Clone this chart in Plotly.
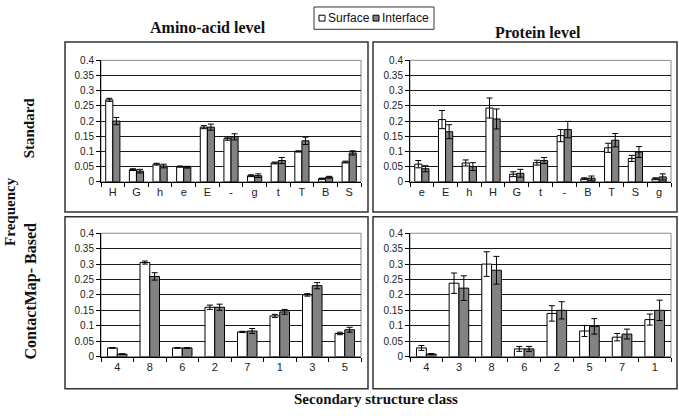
import plotly.graph_objects as go

# ---------------- data ----------------
aa_std_cats = ["H", "G", "h", "e", "E", "-", "g", "t", "T", "B", "S"]
aa_std_surface = [0.27, 0.04, 0.058, 0.05, 0.18, 0.142, 0.02, 0.062, 0.10, 0.01, 0.065]
aa_std_surface_err = [0.005, 0.003, 0.003, 0.002, 0.005, 0.005, 0.003, 0.003, 0.002, 0.002, 0.003]
aa_std_interface = [0.20, 0.035, 0.052, 0.048, 0.18, 0.148, 0.02, 0.07, 0.135, 0.015, 0.095]
aa_std_interface_err = [0.012, 0.006, 0.006, 0.003, 0.010, 0.010, 0.006, 0.010, 0.012, 0.003, 0.007]

pr_std_cats = ["e", "E", "h", "H", "G", "t", "-", "B", "T", "S", "g"]
pr_std_surface = [0.058, 0.205, 0.062, 0.243, 0.025, 0.063, 0.152, 0.01, 0.112, 0.077, 0.01]
pr_std_surface_err = [0.012, 0.030, 0.010, 0.033, 0.008, 0.008, 0.020, 0.003, 0.015, 0.010, 0.003]
pr_std_interface = [0.043, 0.165, 0.05, 0.207, 0.028, 0.07, 0.172, 0.012, 0.137, 0.098, 0.016]
pr_std_interface_err = [0.010, 0.023, 0.013, 0.033, 0.013, 0.010, 0.027, 0.007, 0.022, 0.018, 0.010]

aa_cm_cats = ["4", "8", "6", "2", "7", "1", "3", "5"]
aa_cm_surface = [0.028, 0.305, 0.028, 0.16, 0.08, 0.132, 0.20, 0.075]
aa_cm_surface_err = [0.001, 0.005, 0.001, 0.007, 0.002, 0.005, 0.004, 0.004]
aa_cm_interface = [0.008, 0.26, 0.028, 0.16, 0.083, 0.145, 0.23, 0.087]
aa_cm_interface_err = [0.001, 0.012, 0.001, 0.010, 0.008, 0.008, 0.010, 0.008]

pr_cm_cats = ["4", "3", "8", "6", "2", "5", "7", "1"]
pr_cm_surface = [0.028, 0.238, 0.30, 0.025, 0.14, 0.083, 0.063, 0.12]
pr_cm_surface_err = [0.008, 0.033, 0.040, 0.008, 0.025, 0.018, 0.012, 0.018]
pr_cm_interface = [0.008, 0.222, 0.28, 0.025, 0.15, 0.098, 0.073, 0.15]
pr_cm_interface_err = [0.002, 0.040, 0.045, 0.008, 0.028, 0.025, 0.016, 0.033]

y_tickvals = [0, 0.05, 0.1, 0.15, 0.2, 0.25, 0.3, 0.35, 0.4]
y_ticktext = ["0", "0.05", "0.1", "0.15", "0.2", "0.25", "0.3", "0.35", "0.4"]

series_names = ["Surface", "Interface"]

# ---------------- layout helpers ----------------
W, H = 679, 416


def px(x):
    return x / W


def py(y):
    return 1 - y / H


col_x = [(101, 361), (410, 671)]
row_y = [(56, 181), (234, 361)]

panels = [
    (aa_std_cats, aa_std_surface, aa_std_surface_err, aa_std_interface, aa_std_interface_err, 0, 0),
    (pr_std_cats, pr_std_surface, pr_std_surface_err, pr_std_interface, pr_std_interface_err, 1, 0),
    (aa_cm_cats, aa_cm_surface, aa_cm_surface_err, aa_cm_interface, aa_cm_interface_err, 0, 1),
    (pr_cm_cats, pr_cm_surface, pr_cm_surface_err, pr_cm_interface, pr_cm_interface_err, 1, 1),
]

SURF_COLOR = "white"
INT_COLOR = "#828282"
tick_font = dict(family="Liberation Sans, Arial, sans-serif", size=10, color="#222")
serif_bold = "Liberation Serif, Times New Roman, serif"

fig = go.Figure()
layout = dict()
shapes = []

for i, (cats, s, se, it, ie, c, r) in enumerate(panels, start=1):
    xa = "x" if i == 1 else f"x{i}"
    ya = "y" if i == 1 else f"y{i}"
    for name, vals, errs, color in [
        (series_names[0], s, se, SURF_COLOR),
        (series_names[1], it, ie, INT_COLOR),
    ]:
        fig.add_trace(go.Bar(
            x=cats, y=vals, name=name, xaxis=xa, yaxis=ya,
            marker=dict(color=color, line=dict(color="black", width=1)),
            error_y=dict(type="data", array=errs, visible=True,
                         color="black", thickness=1, width=3),
            showlegend=False,
        ))
    x0, x1 = col_x[c]
    y0, y1 = row_y[r]
    layout["xaxis" if i == 1 else f"xaxis{i}"] = dict(
        domain=[px(x0), px(x1)], anchor=ya, type="category",
        tickson="boundaries", ticks="outside", ticklen=4, tickcolor="black",
        showline=True, linecolor="black", linewidth=1, showgrid=False,
        tickfont=dict(family=tick_font["family"], size=11, color="#222"),
        fixedrange=True,
    )
    layout["yaxis" if i == 1 else f"yaxis{i}"] = dict(
        domain=[py(y1), py(y0)], anchor=xa, range=[0, 0.4],
        tickvals=y_tickvals, ticktext=y_ticktext,
        showgrid=True, gridcolor="#1a1a1a", gridwidth=1,
        ticks="outside", ticklen=4, tickcolor="black",
        showline=True, linecolor="black", linewidth=1, zeroline=False,
        tickfont=tick_font, fixedrange=True,
    )
    # plot area border (gray)
    shapes.append(dict(type="rect", xref=f"{xa} domain", yref=f"{ya} domain",
                       x0=0, x1=1, y0=0, y1=1,
                       line=dict(color="#8a8a8a", width=1), layer="below"))

# outer panel boxes
box_x = [(65, 368), (373, 677)]
box_y = [(37, 212), (217, 394)]
for bx0, bx1 in box_x:
    for by0, by1 in box_y:
        shapes.append(dict(type="rect", xref="paper", yref="paper",
                           x0=px(bx0), x1=px(bx1), y0=py(by1), y1=py(by0),
                           line=dict(color="#333", width=1.5)))

# legend box
shapes.append(dict(type="rect", xref="paper", yref="paper",
                   x0=px(314), x1=px(434), y0=py(24), y1=py(1),
                   line=dict(color="#333", width=1), fillcolor="white"))
shapes.append(dict(type="rect", xref="paper", yref="paper",
                   x0=px(319), x1=px(325), y0=py(15.5), y1=py(9.5),
                   line=dict(color="black", width=1), fillcolor=SURF_COLOR))
shapes.append(dict(type="rect", xref="paper", yref="paper",
                   x0=px(373), x1=px(379), y0=py(15.5), y1=py(9.5),
                   line=dict(color="black", width=1), fillcolor=INT_COLOR))

annotations = [
    dict(text=series_names[0], x=px(326), y=py(12.5), xanchor="left", yanchor="middle",
         font=dict(family=tick_font["family"], size=12, color="#111")),
    dict(text=series_names[1], x=px(380), y=py(12.5), xanchor="left", yanchor="middle",
         font=dict(family=tick_font["family"], size=12, color="#111")),
    dict(text="<b>Amino-acid level</b>", x=px(208), y=py(22), xanchor="center", yanchor="middle",
         font=dict(family=serif_bold, size=16, color="#111")),
    dict(text="<b>Protein level</b>", x=px(538), y=py(27), xanchor="center", yanchor="middle",
         font=dict(family=serif_bold, size=16, color="#111")),
    dict(text="<b>Secondary structure class</b>", x=px(376), y=py(405), xanchor="center", yanchor="middle",
         font=dict(family=serif_bold, size=15, color="#111")),
    dict(text="<b>Frequency</b>", x=px(10), y=py(212), xanchor="center", yanchor="middle",
         textangle=-90, font=dict(family=serif_bold, size=15, color="#111")),
    dict(text="<b>Standard</b>", x=px(29), y=py(126), xanchor="center", yanchor="middle",
         textangle=-90, font=dict(family=serif_bold, size=15, color="#111")),
    dict(text="<b>ContactMap- Based</b>", x=px(31), y=py(294), xanchor="center", yanchor="middle",
         textangle=-90, font=dict(family=serif_bold, size=16, color="#111")),
]
for a in annotations:
    a.update(xref="paper", yref="paper", showarrow=False)

fig.update_layout(
    width=W, height=H,
    margin=dict(l=0, r=0, t=0, b=0),
    paper_bgcolor="white", plot_bgcolor="white",
    barmode="group", bargap=0.4, bargroupgap=0,
    shapes=shapes, annotations=annotations,
    showlegend=False,
    **layout,
)

fig.write_html(
    "out.html",
    config={"displayModeBar": False},
    post_script="document.body.style.margin='0';document.body.style.overflow='hidden';",
)
